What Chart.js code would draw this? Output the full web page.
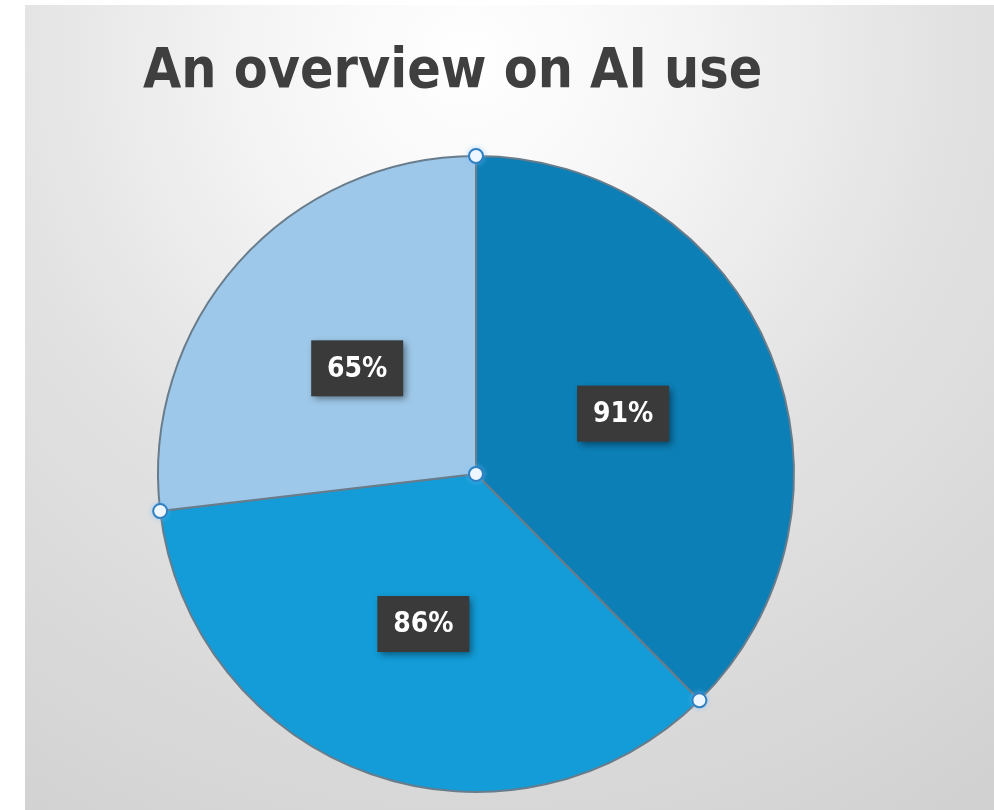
<!DOCTYPE html>
<html>
<head>
<meta charset="utf-8">
<script src="https://cdn.jsdelivr.net/npm/chart.js@4"></script>
<style>
  html, body { margin: 0; padding: 0; background: #ffffff; }
  #aiPie { display: block; }
</style>
</head>
<body>
<canvas id="aiPie" width="994" height="810"></canvas>
<script>
// data
const categories = ['A', 'B', 'C'];
const shares = [91, 86, 65];
const labelsText = ['91%', '86%', '65%'];
const sliceColours = ['#0c7fb6', '#139cd7', '#9ec8e9'];

// grey panel with soft light spot near the title
const panelBackground = {
    id: 'panelBackground',
    beforeDraw(chart) {
        const ctx = chart.ctx;
        ctx.save();
        ctx.fillStyle = '#ffffff';
        ctx.fillRect(0, 0, chart.width, chart.height);
        const g = ctx.createRadialGradient(470, 60, 0, 470, 60, 950);
        g.addColorStop(0, '#ffffff');
        g.addColorStop(0.2, '#f6f6f6');
        g.addColorStop(0.5, '#e2e2e2');
        g.addColorStop(1, '#cfcfcf');
        ctx.fillStyle = g;
        ctx.fillRect(25, 5, chart.width - 25, chart.height - 5);
        ctx.restore();
    }
};

// dark label boxes with white text, placed at each slice's centroid
const boxLabels = {
    id: 'boxLabels',
    afterDatasetsDraw(chart) {
        const ctx = chart.ctx;
        const meta = chart.getDatasetMeta(0);
        ctx.save();
        ctx.font = 'bold 28px "DejaVu Sans Condensed", "DejaVu Sans"';
        ctx.textAlign = 'center';
        ctx.textBaseline = 'middle';
        meta.data.forEach((arc, i) => {
            const p = arc.tooltipPosition();
            const w = 92, h = 56;
            ctx.shadowColor = 'rgba(0,0,0,0.45)';
            ctx.shadowBlur = 7;
            ctx.shadowOffsetX = 3;
            ctx.shadowOffsetY = 3;
            ctx.fillStyle = '#3a3a3a';
            ctx.fillRect(p.x - w / 2, p.y - h / 2, w, h);
            ctx.shadowColor = 'transparent';
            ctx.fillStyle = '#ffffff';
            ctx.fillText(labelsText[i], p.x, p.y + 1);
        });
        ctx.restore();
    }
};

// selection handles on the slice edges and the centre
const handles = {
    id: 'handles',
    afterDraw(chart) {
        const ctx = chart.ctx;
        const meta = chart.getDatasetMeta(0);
        const pts = [];
        meta.data.forEach(arc => {
            pts.push([arc.x + arc.outerRadius * Math.cos(arc.startAngle),
                      arc.y + arc.outerRadius * Math.sin(arc.startAngle)]);
        });
        if (meta.data.length) pts.push([meta.data[0].x, meta.data[0].y]);
        ctx.save();
        pts.forEach(([x, y]) => {
            ctx.beginPath();
            ctx.arc(x, y, 7, 0, Math.PI * 2);
            ctx.fillStyle = '#eef6ff';
            ctx.shadowColor = 'rgba(120,190,255,0.9)';
            ctx.shadowBlur = 6;
            ctx.fill();
            ctx.shadowColor = 'transparent';
            ctx.lineWidth = 2;
            ctx.strokeStyle = '#2f7fc1';
            ctx.stroke();
        });
        ctx.restore();
    }
};

new Chart(document.getElementById('aiPie').getContext('2d'), {
    type: 'pie',
    data: {
        labels: categories,
        datasets: [{
            data: shares,
            backgroundColor: sliceColours,
            borderColor: '#687c8b',
            borderWidth: 2,
            radius: 318
        }]
    },
    options: {
        responsive: false,
        animation: false,
        events: [],
        layout: {
            padding: { left: 143, right: 185, top: 0, bottom: 2 }
        },
        plugins: {
            legend: { display: false },
            tooltip: { enabled: false },
            title: {
                display: true,
                text: 'An overview on AI use',
                align: 'start',
                color: '#3f3f3f',
                font: { family: '"DejaVu Sans Condensed", "DejaVu Sans"', size: 55, weight: 'bold', lineHeight: 1.2 },
                padding: { top: 40, bottom: 34 }
            }
        }
    },
    plugins: [panelBackground, boxLabels, handles]
});
</script>
</body>
</html>
